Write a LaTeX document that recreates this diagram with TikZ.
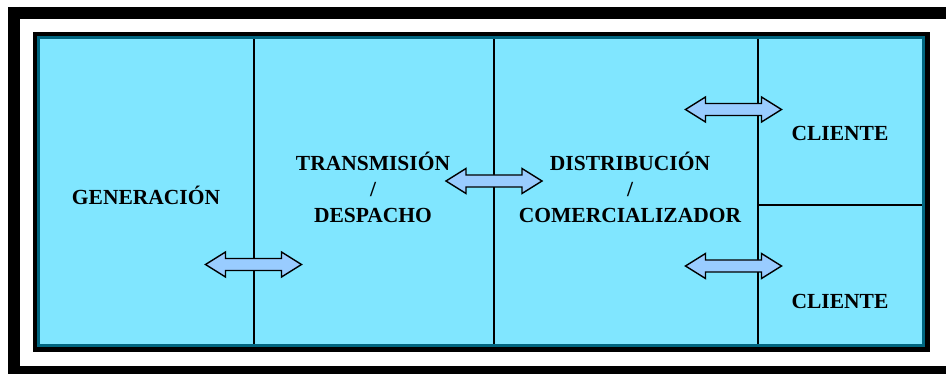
\documentclass[tikz,border=0pt]{standalone}
\usepackage{fontspec}
\setmainfont{Liberation Serif}
\definecolor{cyanfill}{RGB}{128,230,255}
\definecolor{tealedge}{RGB}{0,102,128}
\definecolor{arrowfill}{RGB}{153,204,255}
\tikzset{
  lbl/.style={font=\bfseries\fontsize{21.5}{26}\selectfont, align=center, inner sep=0pt},
  divider/.style={line width=1.8pt, draw=black},
  dbl/.pic={
    \draw[line width=1.4pt, fill=arrowfill, line join=miter]
      (-48,0) -- (-28,-12.5) -- (-28,-6) -- (28,-6) -- (28,-12.5) -- (48,0)
      -- (28,12.5) -- (28,6) -- (-28,6) -- (-28,12.5) -- cycle;
  }
}
\begin{document}
\begin{tikzpicture}[x=1pt, y=-1pt]
\useasboundingbox (0,0) rectangle (946,374);
\clip (0,0) rectangle (946,374);
\fill[white] (0,0) rectangle (946,374);
% outer thick frame
\draw[line width=12pt] (14,13) -- (960,13);
\draw[line width=12pt] (14,7) -- (14,374);
\fill[black] (8,366) rectangle (946,380);
% inner panel with shadow
\fill[black] (33,32) rectangle (930,352);
\fill[tealedge] (37,36) rectangle (925,347);
\fill[cyanfill] (40,39) rectangle (922,344);
% dividers
\coordinate (t1) at (254,39); \coordinate (b1) at (254,344);
\coordinate (t2) at (494,39); \coordinate (b2) at (494,344);
\coordinate (t3) at (758,39); \coordinate (b3) at (758,344);
\coordinate (m3) at (758,205); \coordinate (mr) at (922,205);
\draw[divider] (t1) -- (b1);
\draw[divider] (t2) -- (b2);
\draw[divider] (t3) -- (b3);
\draw[divider] (m3) -- (mr);
% labels
\node[lbl] (gen) at (146,195) {GENERACIÓN};
\node[lbl] (trans) at (373,187) {TRANSMISIÓN\\/\\DESPACHO};
\node[lbl] (dist) at (630,187) {DISTRIBUCIÓN\\/\\COMERCIALIZADOR};
\node[lbl] (cli1) at (840,133) {CLIENTE};
\node[lbl] (cli2) at (840,301) {CLIENTE};
% double arrows
\pic at (253.5,264.5) {dbl};
\pic at (494,181) {dbl};
\pic at (733.5,109.5) {dbl};
\pic at (733.5,266) {dbl};
\end{tikzpicture}
\end{document}
